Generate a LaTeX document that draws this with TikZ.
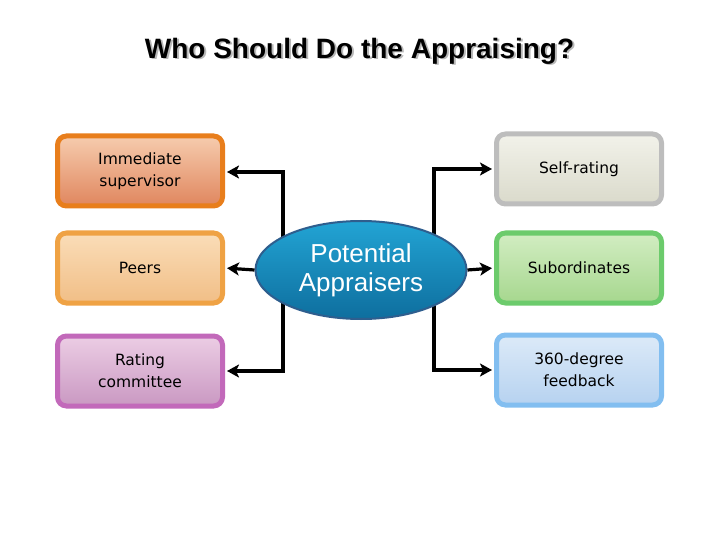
\documentclass[tikz,border=0pt]{standalone}
\usepackage{fontspec}
\setmainfont{DejaVu Sans}
\newfontfamily\titlefont{Liberation Sans}
\usetikzlibrary{arrows.meta,shapes.geometric}
\definecolor{immB}{HTML}{E87E1C}\definecolor{immT}{HTML}{F6CCAE}\definecolor{immS}{HTML}{E0865E}
\definecolor{peeB}{HTML}{EFA244}\definecolor{peeT}{HTML}{FADDB8}\definecolor{peeS}{HTML}{F1BE86}
\definecolor{ratB}{HTML}{C269BA}\definecolor{ratT}{HTML}{ECCDE4}\definecolor{ratS}{HTML}{C998C2}
\definecolor{selB}{HTML}{BDBDBD}\definecolor{selT}{HTML}{F2F2EA}\definecolor{selS}{HTML}{DADACB}
\definecolor{subB}{HTML}{6CCB6C}\definecolor{subT}{HTML}{D2EDC2}\definecolor{subS}{HTML}{A6D78E}
\definecolor{degB}{HTML}{82BEF0}\definecolor{degT}{HTML}{DCEAF8}\definecolor{degS}{HTML}{B6D2F0}
\definecolor{ellB}{HTML}{2E5E8E}\definecolor{ellT}{HTML}{22A4D4}\definecolor{ellS}{HTML}{0E6E9E}
\tikzset{
  boxnode/.style={rounded corners=9pt, line width=5pt, minimum width=165pt, minimum height=70pt,
    align=center, font=\fontsize{15.5}{22}\selectfont, text=black},
  conn/.style={line width=3.2pt, -{Stealth[length=12pt,width=13pt,inset=3pt]}, shorten >=2pt},
  ttl/.style={font=\titlefont\bfseries\fontsize{28}{32}\selectfont},
}
\begin{document}
\begin{tikzpicture}[x=1pt,y=1pt]
\useasboundingbox (0,0) rectangle (720,-540);
% title (with soft shadow)
\node (titleshadow) [ttl, text=black!28] at (361.5,-52.5) {Who Should Do the Appraising?};
\node (title) [ttl, text=black] at (359.5,-51) {Who Should Do the Appraising?};
% boxes
\node (imm) [boxnode, draw=immB, top color=immT, bottom color=immS] at (140,-171) {Immediate\\supervisor};
\node (pee) [boxnode, draw=peeB, top color=peeT, bottom color=peeS] at (140,-268) {Peers};
\node (rat) [boxnode, draw=ratB, top color=ratT, bottom color=ratS] at (140,-371) {Rating\\committee};
\node (sel) [boxnode, draw=selB, top color=selT, bottom color=selS] at (579,-169) {Self-rating};
\node (sub) [boxnode, draw=subB, top color=subT, bottom color=subS] at (579,-268) {Subordinates};
\node (deg) [boxnode, draw=degB, top color=degT, bottom color=degS] at (579,-370) {360-degree\\feedback};
% connectors (behind ellipse)
\coordinate (lj) at (283,-268);
\coordinate (rj) at (434,-268);
\draw[conn] (lj) |- ([yshift=-1pt]imm.east);
\draw[conn] (lj) |- (rat.east);
\draw[conn] (rj) |- (sel.west);
\draw[conn] (rj) |- (deg.west);
% centre ellipse
\node (pa) [ellipse, draw=ellB, line width=2pt, top color=ellT, bottom color=ellS,
  minimum width=211pt, minimum height=98pt, inner sep=0pt, align=center, text=white,
  font=\titlefont\fontsize{26}{29}\selectfont] at (361,-270) {Potential\\Appraisers};
\draw[conn] (pa.west) -- (pee.east);
\draw[conn] (pa.east) -- (sub.west);
\end{tikzpicture}
\end{document}
